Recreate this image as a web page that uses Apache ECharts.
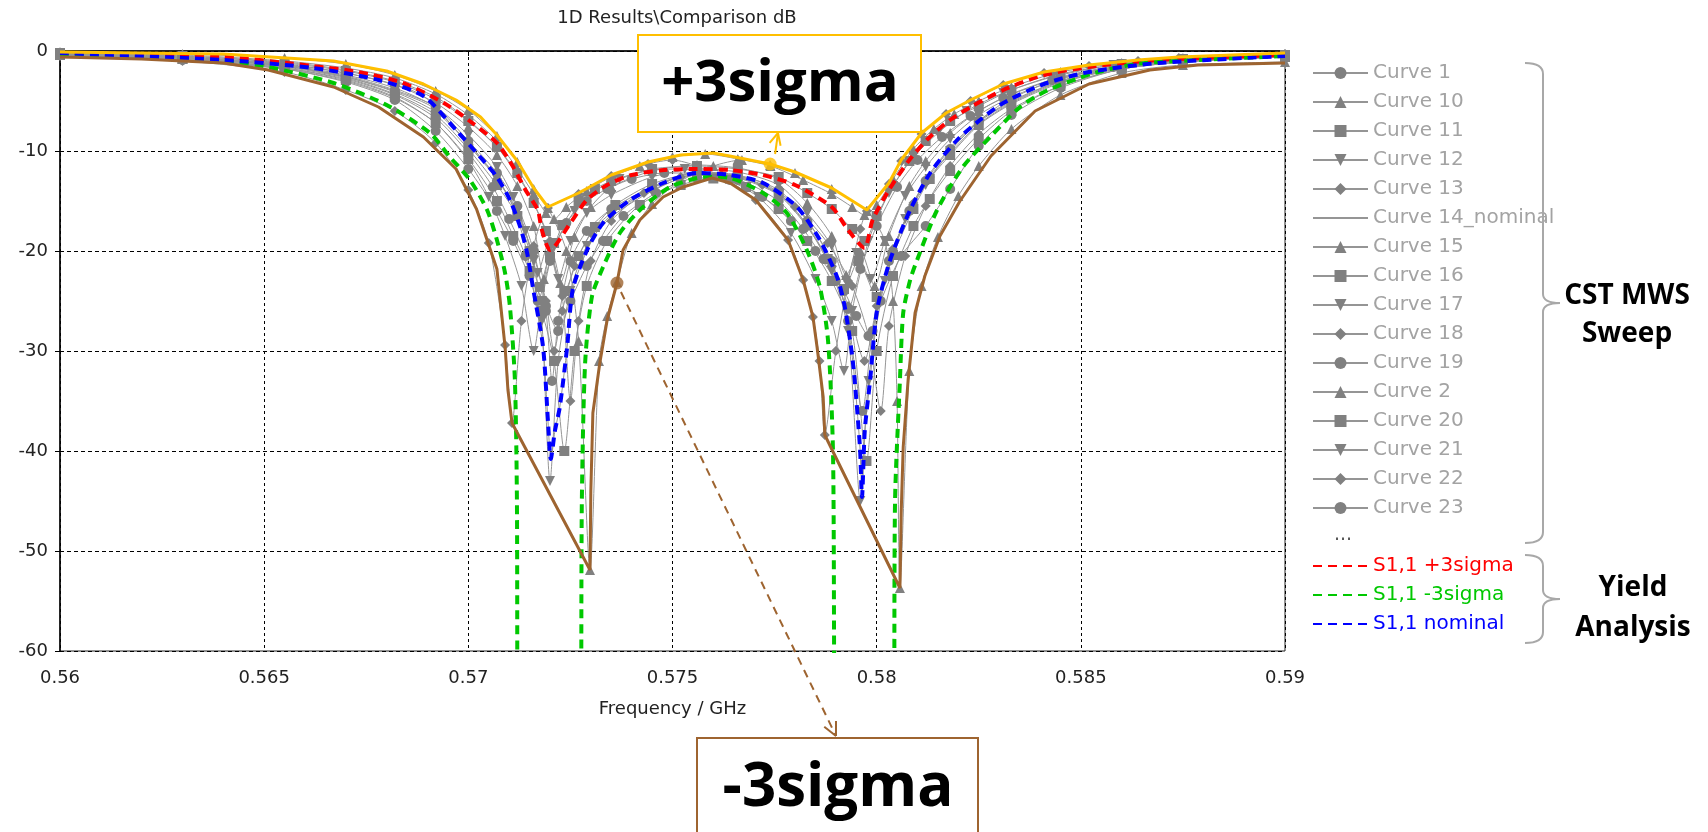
<!DOCTYPE html>
<html>
<head>
<meta charset="utf-8">
<title>1D Results\Comparison dB</title>
<script src="https://cdn.jsdelivr.net/npm/echarts@6.0.0/dist/echarts.min.js"></script>
<style>
html, body { margin: 0; padding: 0; background: #fff; }
#chart { width: 1708px; height: 832px; }
</style>
</head>
<body>
<div id="chart"></div>
<script>
// x = frequency in GHz, y = S1,1 in dB

// yield analysis curves
var s11Plus3 = [[0.5600,-0.2],[0.5640,-0.6],[0.5662,-1.5],[0.5673,-2.1],[0.5684,-3.2],[0.5694,-5.2],[0.5701,-7.2],[0.5707,-9.2],[0.5711,-11.6],[0.5714,-13.9],[0.5717,-15.9],[0.5718,-17.9],[0.5720,-19.9],[0.5725,-17.2],[0.5729,-14.9],[0.5734,-13.4],[0.5740,-12.4],[0.5748,-11.9],[0.5756,-11.8],[0.5764,-11.9],[0.5772,-12.4],[0.5780,-13.4],[0.5789,-15.6],[0.5793,-17.9],[0.5797,-19.7],[0.5799,-16.9],[0.5803,-13.9],[0.5808,-10.9],[0.5813,-8.6],[0.5818,-6.9],[0.5823,-5.6],[0.5831,-3.9],[0.5841,-2.4],[0.5852,-1.6],[0.5869,-0.9],[0.5900,-0.4]];
var s11Minus3 = [[0.5600,-0.4],[0.5640,-1.0],[0.5651,-1.6],[0.5667,-3.2],[0.5680,-5.4],[0.56906,-8.2],[0.56955,-10.6],[0.57004,-12.9],[0.57046,-15.9],[0.57070,-18.9],[0.57090,-22.2],[0.57102,-25.6],[0.57114,-32.9],[0.57119,-45],[0.57122,-75],[0.57273,-75],[0.57278,-45],[0.57286,-31.2],[0.57303,-24.5],[0.57330,-21.6],[0.57371,-18.2],[0.57428,-15.6],[0.57494,-13.6],[0.57560,-12.7],[0.57597,-12.6],[0.57641,-12.7],[0.57722,-14.2],[0.57780,-16.2],[0.57829,-19.9],[0.57861,-23.6],[0.57881,-29.0],[0.57893,-40.0],[0.57903,-75],[0.58040,-75],[0.58045,-45],[0.58057,-32.9],[0.58065,-26.2],[0.58082,-22.9],[0.58099,-20.9],[0.58148,-15.9],[0.58211,-11.6],[0.58278,-8.6],[0.58351,-5.6],[0.58415,-4.0],[0.58525,-2.3],[0.58635,-1.3],[0.58787,-0.9],[0.5900,-0.5]];
var s11Nominal = [[0.5600,-0.2],[0.5640,-0.9],[0.5662,-1.7],[0.5678,-2.9],[0.5689,-4.5],[0.56972,-8.0],[0.57029,-10.6],[0.57070,-12.6],[0.57102,-14.9],[0.57127,-17.6],[0.57144,-20.2],[0.57158,-23.6],[0.57183,-29.6],[0.57195,-37.0],[0.57202,-40.8],[0.57212,-38.0],[0.57224,-35.6],[0.57242,-29.6],[0.57256,-23.8],[0.57291,-19.9],[0.57330,-17.2],[0.57396,-14.9],[0.57477,-13.2],[0.57560,-12.2],[0.57641,-12.4],[0.57722,-13.2],[0.57805,-15.6],[0.57861,-18.9],[0.57903,-22.6],[0.57922,-25.6],[0.57942,-31.2],[0.57959,-39.6],[0.57964,-44.6],[0.57971,-37.9],[0.57984,-32.9],[0.58001,-25.9],[0.58033,-20.9],[0.58082,-15.9],[0.58131,-12.2],[0.58197,-8.9],[0.58253,-6.9],[0.5831,-5.2],[0.5841,-3.3],[0.5852,-2.1],[0.5869,-1.2],[0.5900,-0.5]];

// envelopes (+3sigma / -3sigma)
var envUpper = [[0.5600,-0.1],[0.5640,-0.3],[0.5667,-1.0],[0.5680,-2.0],[0.5689,-3.3],[0.5697,-4.9],[0.5703,-6.6],[0.5707,-8.4],[0.5712,-11.0],[0.5716,-13.7],[0.57195,-15.6],[0.5727,-14.2],[0.5735,-12.4],[0.5744,-11.1],[0.5752,-10.4],[0.5760,-10.2],[0.5764,-10.5],[0.57739,-11.3],[0.5780,-12.1],[0.5789,-13.7],[0.57976,-15.9],[0.5803,-13.2],[0.5806,-10.9],[0.5811,-8.2],[0.5817,-6.2],[0.5823,-4.9],[0.5831,-3.3],[0.5841,-2.1],[0.5852,-1.4],[0.5864,-0.9],[0.5874,-0.6],[0.5900,-0.2]];
var envLower = [[0.5600,-0.6],[0.5620,-0.8],[0.5640,-1.2],[0.5651,-1.9],[0.5667,-3.6],[0.5678,-5.6],[0.5689,-8.6],[0.5697,-11.8],[0.5702,-15.8],[0.5707,-21.8],[0.5709,-29.6],[0.57097,-33.9],[0.57107,-37.2],[0.57298,-51.9],[0.57300,-44.0],[0.57305,-36.2],[0.57322,-31.2],[0.57340,-26.9],[0.57364,-23.2],[0.57379,-19.9],[0.57420,-16.9],[0.57477,-14.6],[0.57526,-13.6],[0.57597,-12.7],[0.57641,-13.2],[0.57704,-14.9],[0.57783,-18.9],[0.57820,-22.9],[0.57844,-26.6],[0.57854,-29.6],[0.57869,-34.6],[0.57873,-38.4],[0.58057,-53.7],[0.58060,-46.2],[0.58065,-39.6],[0.58077,-32.9],[0.58094,-26.2],[0.58118,-22.5],[0.58155,-18.5],[0.58204,-15.0],[0.58280,-10.5],[0.58388,-6.0],[0.58520,-3.3],[0.58669,-1.9],[0.58787,-1.4],[0.5900,-1.2]];
var plusMarker = [0.57739, -11.3];
var minusMarker = [0.57364, -23.2];

// CST MWS parameter sweep
var curve1 = [[0.5600,-0.3],[0.5630,-0.7],[0.5655,-1.5],[0.5670,-2.5],[0.5682,-3.9],[0.5692,-5.6],[0.5700,-9.0],[0.5707,-12.2],[0.5712,-15.5],[0.5716,-20],[0.5719,-26],[0.57205,-33],[0.5722,-27],[0.5725,-21],[0.5729,-18],[0.5735,-15.8],[0.5745,-13.6],[0.5756,-12.1],[0.5766,-12.4],[0.5776,-13.9],[0.5783,-17],[0.5789,-21],[0.5793,-27],[0.57965,-36],[0.5799,-28],[0.5803,-21],[0.5808,-16],[0.5812,-13.0],[0.5818,-9.8],[0.5825,-7.0],[0.5833,-5.0],[0.5845,-3.0],[0.5860,-1.6],[0.5875,-1.0],[0.5900,-0.5]];
var curve10 = [[0.5600,-0.2],[0.5630,-0.6],[0.5655,-1.3],[0.5670,-2.2],[0.5682,-3.4],[0.5692,-5.2],[0.5700,-7.6],[0.5707,-10.4],[0.5712,-13.5],[0.5716,-17.5],[0.57185,-22.8],[0.5720,-19.8],[0.57225,-23.2],[0.5726,-18.6],[0.5730,-15.6],[0.5735,-13.6],[0.5745,-12.0],[0.5756,-11.4],[0.5766,-11.7],[0.5776,-12.8],[0.5783,-15.2],[0.5789,-18.5],[0.57925,-22.4],[0.5796,-20.0],[0.57995,-23.5],[0.5803,-18.5],[0.5808,-13.5],[0.5812,-11.0],[0.5818,-8.2],[0.5825,-6.0],[0.5833,-4.3],[0.5845,-2.6],[0.5860,-1.4],[0.5875,-0.9],[0.5900,-0.4]];
var curve11 = [[0.5600,-0.2],[0.5630,-0.5],[0.5655,-1.2],[0.5670,-2.0],[0.5682,-3.1],[0.5692,-4.8],[0.5700,-7.0],[0.5707,-9.6],[0.5712,-12.2],[0.5716,-15.2],[0.5719,-18.0],[0.5721,-19.2],[0.5723,-17.4],[0.5727,-15.0],[0.5731,-13.8],[0.5735,-13.0],[0.5745,-11.8],[0.5756,-11.5],[0.5766,-11.8],[0.5776,-12.6],[0.5783,-14.2],[0.5789,-15.8],[0.5794,-17.8],[0.5797,-19.0],[0.5800,-16.5],[0.5804,-13.5],[0.5808,-11.0],[0.5812,-9.0],[0.5818,-7.0],[0.5825,-5.5],[0.5833,-3.9],[0.5845,-2.3],[0.5860,-1.3],[0.5875,-0.8],[0.5900,-0.4]];
var curve12 = [[0.5600,-0.3],[0.5630,-0.7],[0.5655,-1.5],[0.5670,-2.6],[0.5682,-4.0],[0.5692,-5.8],[0.5700,-9.4],[0.5707,-12.8],[0.5712,-16.0],[0.5716,-21.0],[0.5718,-27.0],[0.5720,-43.0],[0.5722,-31.0],[0.5725,-24.0],[0.5729,-19.5],[0.5735,-16.6],[0.5745,-14.0],[0.5756,-12.3],[0.5766,-12.6],[0.5776,-14.3],[0.5783,-17.5],[0.5789,-22.0],[0.5793,-28.0],[0.5796,-45.0],[0.5798,-33.0],[0.5802,-23.0],[0.5807,-16.8],[0.5812,-13.4],[0.5818,-10.0],[0.5825,-7.1],[0.5833,-5.1],[0.5845,-3.0],[0.5860,-1.6],[0.5875,-1.0],[0.5900,-0.5]];
var curve13 = [[0.5600,-0.5],[0.5630,-1.0],[0.5655,-2.1],[0.5670,-3.9],[0.5682,-6.0],[0.5692,-9.2],[0.5700,-13.9],[0.5705,-19.2],[0.5709,-29.4],[0.57107,-37.2],[0.5713,-27.0],[0.5716,-19.5],[0.57195,-15.7],[0.5727,-14.3],[0.5735,-12.5],[0.5744,-11.3],[0.5750,-10.9],[0.5756,-11.5],[0.5763,-12.8],[0.57704,-14.9],[0.57783,-18.9],[0.57820,-22.9],[0.57844,-26.6],[0.57860,-31.0],[0.57873,-38.4],[0.5790,-30.0],[0.5793,-23.0],[0.5796,-17.8],[0.57976,-16.0],[0.5803,-13.3],[0.5806,-11.0],[0.5811,-8.3],[0.5817,-6.3],[0.5823,-5.0],[0.5831,-3.4],[0.5841,-2.2],[0.5852,-1.5],[0.5864,-1.0],[0.5874,-0.7],[0.5900,-0.3]];
var curve15 = [[0.5600,-0.1],[0.5630,-0.3],[0.5655,-0.7],[0.5670,-1.3],[0.5682,-2.4],[0.5692,-4.0],[0.5700,-5.9],[0.5707,-8.5],[0.5712,-11.1],[0.5716,-13.8],[0.57195,-15.7],[0.5724,-20.0],[0.5727,-29.0],[0.57298,-51.9],[0.5732,-31.0],[0.5734,-26.5],[0.57364,-23.1],[0.5740,-18.2],[0.5745,-15.3],[0.5752,-13.0],[0.5760,-11.5],[0.5767,-10.9],[0.57739,-11.4],[0.5780,-12.2],[0.5789,-13.8],[0.57976,-16.0],[0.5802,-19.0],[0.5804,-25.0],[0.5805,-35.0],[0.58057,-53.7],[0.5808,-32.0],[0.5811,-23.5],[0.5815,-18.6],[0.5820,-14.5],[0.5825,-11.5],[0.5833,-7.8],[0.5845,-4.4],[0.5860,-2.2],[0.5875,-1.4],[0.5900,-1.1]];
var curve16 = [[0.5600,-0.3],[0.5630,-0.8],[0.5655,-1.6],[0.5670,-2.7],[0.5682,-4.3],[0.5692,-6.4],[0.5700,-9.8],[0.5707,-13.4],[0.5712,-16.5],[0.5715,-20.0],[0.57175,-23.6],[0.5720,-20.6],[0.57235,-24.0],[0.5727,-20.5],[0.5731,-17.6],[0.5736,-15.4],[0.5745,-13.3],[0.5756,-12.2],[0.5766,-12.5],[0.5776,-14.2],[0.5783,-17.4],[0.5788,-20.8],[0.5792,-23.8],[0.57955,-21.0],[0.5800,-24.6],[0.5804,-20.4],[0.5809,-15.8],[0.5813,-12.8],[0.5818,-10.4],[0.5825,-7.4],[0.5833,-5.3],[0.5845,-3.2],[0.5860,-1.7],[0.5875,-1.0],[0.5900,-0.5]];
var curve17 = [[0.5600,-0.4],[0.5630,-0.9],[0.5655,-1.8],[0.5670,-3.0],[0.5682,-4.7],[0.5692,-7.2],[0.5700,-11.0],[0.5705,-14.6],[0.5709,-18.5],[0.5713,-23.5],[0.5716,-30.0],[0.5718,-25.0],[0.5721,-19.6],[0.5726,-16.0],[0.5731,-14.0],[0.5737,-12.8],[0.5745,-11.9],[0.5753,-11.8],[0.5762,-12.6],[0.5771,-14.6],[0.5779,-18.2],[0.5785,-22.8],[0.5789,-27.0],[0.5792,-32.0],[0.5794,-26.0],[0.5798,-19.0],[0.5803,-14.2],[0.5809,-10.6],[0.5815,-8.2],[0.5822,-6.0],[0.5831,-4.2],[0.5843,-2.6],[0.5858,-1.4],[0.5875,-0.8],[0.5900,-0.4]];
var curve18 = [[0.5600,-0.2],[0.5630,-0.5],[0.5655,-1.1],[0.5670,-1.9],[0.5682,-3.0],[0.5692,-4.6],[0.5700,-6.9],[0.5707,-9.6],[0.5712,-12.4],[0.5716,-15.2],[0.5720,-19.0],[0.5723,-24.5],[0.5725,-35.0],[0.5727,-27.0],[0.5730,-21.0],[0.5735,-17.0],[0.5743,-14.2],[0.5752,-12.6],[0.5762,-12.4],[0.5772,-13.4],[0.5780,-15.6],[0.5788,-19.2],[0.5794,-23.5],[0.5798,-28.5],[0.5801,-36.0],[0.5803,-27.5],[0.5807,-20.5],[0.5812,-15.5],[0.5818,-11.5],[0.5825,-8.3],[0.5833,-5.8],[0.5845,-3.5],[0.5860,-1.8],[0.5875,-1.1],[0.5900,-0.6]];
var curve19 = [[0.5600,-0.4],[0.5630,-0.9],[0.5655,-1.8],[0.5670,-3.1],[0.5682,-4.9],[0.5692,-8.0],[0.5700,-11.8],[0.5707,-16.0],[0.5711,-19.0],[0.5715,-22.5],[0.5719,-25.5],[0.5722,-28.0],[0.5725,-25.0],[0.5729,-21.5],[0.5733,-19.0],[0.5738,-16.5],[0.5746,-14.2],[0.5756,-12.7],[0.5766,-12.9],[0.5776,-15.0],[0.5782,-17.8],[0.5787,-20.8],[0.5792,-24.0],[0.5795,-26.5],[0.5798,-28.5],[0.5801,-25.0],[0.5806,-20.5],[0.5812,-17.5],[0.5818,-13.8],[0.5825,-9.5],[0.5833,-6.4],[0.5845,-3.7],[0.5860,-1.8],[0.5875,-1.1],[0.5900,-0.5]];
var curve2 = [[0.5600,-0.2],[0.5630,-0.4],[0.5655,-1.0],[0.5670,-1.7],[0.5682,-2.7],[0.5692,-4.3],[0.5700,-6.4],[0.5707,-9.0],[0.5712,-11.8],[0.5716,-14.3],[0.5719,-16.2],[0.5721,-16.8],[0.5724,-15.6],[0.5729,-14.0],[0.5735,-12.6],[0.5742,-11.5],[0.5750,-10.6],[0.5758,-10.3],[0.5766,-10.8],[0.5774,-11.5],[0.5782,-12.9],[0.5789,-14.3],[0.5794,-15.6],[0.5797,-16.4],[0.5800,-15.4],[0.5804,-12.8],[0.5809,-9.8],[0.5814,-7.8],[0.5819,-6.3],[0.5825,-5.0],[0.5833,-3.6],[0.5845,-2.1],[0.5860,-1.2],[0.5875,-0.7],[0.5900,-0.3]];
var curve20 = [[0.5600,-0.4],[0.5630,-0.8],[0.5655,-1.7],[0.5670,-2.9],[0.5682,-4.6],[0.5692,-7.2],[0.5700,-10.8],[0.5707,-15.0],[0.5711,-18.5],[0.5715,-22.0],[0.5718,-26.0],[0.5721,-31.0],[0.57235,-40.0],[0.5726,-30.0],[0.5729,-23.5],[0.5734,-19.0],[0.5742,-15.4],[0.5752,-13.4],[0.5760,-12.75],[0.5768,-13.6],[0.5776,-15.8],[0.5783,-19.0],[0.5789,-23.0],[0.5794,-28.0],[0.57975,-41.0],[0.5800,-30.0],[0.5804,-22.5],[0.5809,-17.5],[0.5813,-14.8],[0.5818,-12.0],[0.5825,-8.8],[0.5833,-6.0],[0.5845,-3.5],[0.5860,-1.8],[0.5875,-1.1],[0.5900,-0.6]];
var curve21 = [[0.5600,-0.3],[0.5630,-0.6],[0.5655,-1.4],[0.5670,-2.4],[0.5682,-3.7],[0.5692,-5.6],[0.5700,-8.4],[0.5707,-11.6],[0.5711,-14.6],[0.5714,-18.0],[0.5717,-22.2],[0.57195,-19.4],[0.5722,-22.8],[0.5725,-19.0],[0.5729,-16.2],[0.5735,-14.4],[0.5745,-12.6],[0.5756,-11.8],[0.5766,-12.1],[0.5776,-13.4],[0.5783,-16.2],[0.5789,-19.5],[0.57925,-23.0],[0.5795,-20.2],[0.57985,-22.8],[0.5802,-19.0],[0.5807,-14.5],[0.5812,-11.6],[0.5818,-8.8],[0.5825,-6.4],[0.5833,-4.6],[0.5845,-2.8],[0.5860,-1.5],[0.5875,-0.9],[0.5900,-0.4]];
var curve22 = [[0.5600,-0.3],[0.5630,-0.7],[0.5655,-1.5],[0.5670,-2.6],[0.5682,-4.1],[0.5692,-6.1],[0.5700,-9.2],[0.5707,-12.8],[0.5712,-16.2],[0.5716,-20.5],[0.5719,-25.0],[0.5721,-30.0],[0.5723,-26.0],[0.5726,-21.5],[0.5730,-18.2],[0.5735,-16.2],[0.5745,-13.9],[0.5756,-12.4],[0.5766,-12.7],[0.5776,-14.4],[0.5783,-17.6],[0.5789,-21.5],[0.5793,-25.5],[0.5797,-31.0],[0.5800,-25.5],[0.5804,-19.8],[0.5809,-15.2],[0.5813,-12.6],[0.5818,-10.2],[0.5825,-7.3],[0.5833,-5.2],[0.5845,-3.1],[0.5860,-1.7],[0.5875,-1.0],[0.5900,-0.5]];
var curve23 = [[0.5600,-0.4],[0.5630,-0.8],[0.5655,-1.7],[0.5670,-2.8],[0.5682,-4.4],[0.5692,-6.7],[0.5700,-10.2],[0.5706,-13.6],[0.5710,-16.8],[0.5714,-20.5],[0.5717,-25.0],[0.5720,-21.0],[0.5724,-17.2],[0.5729,-15.0],[0.5734,-13.8],[0.5740,-12.8],[0.5748,-12.2],[0.5756,-12.2],[0.5764,-12.9],[0.5772,-14.6],[0.5779,-17.0],[0.5785,-20.0],[0.5790,-23.0],[0.5793,-25.8],[0.5796,-21.8],[0.5800,-17.5],[0.5805,-13.6],[0.5810,-10.9],[0.5816,-8.6],[0.5823,-6.5],[0.5831,-4.7],[0.5843,-2.9],[0.5858,-1.6],[0.5875,-0.9],[0.5900,-0.5]];

var sweepNames = ['Curve 1','Curve 10','Curve 11','Curve 12','Curve 13','Curve 14_nominal','Curve 15','Curve 16','Curve 17','Curve 18','Curve 19','Curve 2','Curve 20','Curve 21','Curve 22','Curve 23'];
var sweepData = [curve1, curve10, curve11, curve12, curve13, s11Nominal, curve15, curve16, curve17, curve18, curve19, curve2, curve20, curve21, curve22, curve23];
var sweepSymbols = ['circle','triangle','rect','triangle','diamond','none','triangle','rect','triangle','diamond','circle','triangle','rect','triangle','diamond','circle'];
var sweepRotate = [0,0,0,180,0,0,0,0,180,0,0,0,0,180,0,0];

var yieldNames = ['S1,1 +3sigma','S1,1 -3sigma','S1,1 nominal'];
var yieldData = [s11Plus3, s11Minus3, s11Nominal];
var yieldColors = ['#ff0000','#00c800','#0000ff'];

var xTicks = { min: 0.56, max: 0.59, step: 0.005 };
var yTicks = { min: -60, max: 0, step: 10 };

var FONT = 'DejaVu Sans';
var BOLD = 'Open Sans';
var ORANGE = '#ffbf00';
var BROWN = '#9e6430';
var BRACKET = '#a8a8a8';

var chart = echarts.init(document.getElementById('chart'));

var series = [];
sweepNames.forEach(function (name, i) {
    series.push({
        name: name,
        type: 'line',
        data: sweepData[i],
        symbol: sweepSymbols[i],
        symbolRotate: sweepRotate[i],
        symbolSize: 10,
        showSymbol: sweepSymbols[i] !== 'none',
        smooth: 0.25,
        lineStyle: { color: '#959595', width: 1 },
        itemStyle: { color: '#808080' },
        z: 2
    });
});
yieldNames.forEach(function (name, i) {
    series.push({
        name: name,
        type: 'line',
        data: yieldData[i],
        symbol: 'none',
        smooth: 0.25,
        lineStyle: { color: yieldColors[i], width: 4, type: [9, 6] },
        itemStyle: { color: yieldColors[i] },
        z: 3
    });
});
series.push({
    name: 'upper',
    type: 'line',
    data: envUpper,
    symbol: 'none',
    lineStyle: { color: ORANGE, width: 3 },
    z: 4
});
series.push({
    name: 'lower',
    type: 'line',
    data: envLower,
    symbol: 'none',
    lineStyle: { color: BROWN, width: 3 },
    z: 4
});
series.push({
    name: 'plusDot', type: 'scatter', data: [plusMarker],
    symbolSize: 13, itemStyle: { color: ORANGE }, z: 5
});
series.push({
    name: 'minusDot', type: 'scatter', data: [minusMarker],
    symbolSize: 13, itemStyle: { color: BROWN }, z: 5
});

var legendText = { fontFamily: FONT, fontSize: 20, lineHeight: 20, color: '#a3a3a3' };
var noMarker = { opacity: 0 };

chart.setOption({
    animation: false,
    title: {
        text: '1D Results\\Comparison dB',
        left: 672, top: 4, textAlign: 'center',
        textStyle: { fontFamily: FONT, fontSize: 18, fontWeight: 'normal', color: '#222' }
    },
    grid: {
        left: 60, right: 423, top: 51, bottom: 181,
        show: true, borderColor: '#222', borderWidth: 1
    },
    legend: [{
        data: sweepNames.map(function (n, i) {
            return sweepSymbols[i] === 'none' ? { name: n, itemStyle: noMarker } : { name: n };
        }),
        orient: 'vertical',
        left: 1307, top: 58,
        itemWidth: 55, itemHeight: 15, itemGap: 9,
        selectedMode: false,
        lineStyle: { width: 2 },
        textStyle: legendText
    }, {
        data: yieldNames.map(function (n, i) {
            return { name: n, itemStyle: noMarker, textStyle: { color: yieldColors[i] } };
        }),
        orient: 'vertical',
        left: 1307, top: 551,
        itemWidth: 55, itemHeight: 15, itemGap: 9,
        selectedMode: false,
        lineStyle: { width: 2 },
        textStyle: legendText
    }],
    xAxis: {
        type: 'value',
        min: xTicks.min, max: xTicks.max, interval: xTicks.step,
        name: 'Frequency / GHz',
        nameLocation: 'middle', nameGap: 49,
        nameTextStyle: { fontFamily: FONT, fontSize: 18, color: '#222' },
        axisLine: { lineStyle: { color: '#000', width: 1.5 } },
        axisTick: { show: true, length: 5, lineStyle: { color: '#000' } },
        axisLabel: {
            margin: 18, fontFamily: FONT, fontSize: 18, color: '#222',
            formatter: function (v) { return String(parseFloat(v.toFixed(4))); }
        },
        splitLine: { show: true, lineStyle: { color: '#000', type: [3, 3], width: 1 } }
    },
    yAxis: {
        type: 'value',
        min: yTicks.min, max: yTicks.max, interval: yTicks.step,
        axisLine: { show: true, lineStyle: { color: '#000', width: 1.5 } },
        axisTick: { show: true, length: 5, lineStyle: { color: '#000' } },
        axisLabel: { margin: 12, fontFamily: FONT, fontSize: 18, color: '#222' },
        splitLine: { show: true, lineStyle: { color: '#000', type: [4, 3], width: 1 } }
    },
    series: series
});

// annotations: boxes, arrows, brackets
function arrowHead(tx, ty, fx, fy, len, color) {
    var a = Math.atan2(ty - fy, tx - fx);
    var out = [];
    [-0.45, 0.45].forEach(function (d) {
        out.push({
            type: 'line', z: 100,
            shape: { x1: tx, y1: ty, x2: tx - len * Math.cos(a + d), y2: ty - len * Math.sin(a + d) },
            style: { stroke: color, lineWidth: 2 }
        });
    });
    return out;
}

function seg(x1, y1, x2, y2) {
    return { type: 'line', z: 100, shape: { x1: x1, y1: y1, x2: x2, y2: y2 },
             style: { stroke: BRACKET, lineWidth: 2 } };
}
function curl(x1, y1, cx, cy, x2, y2) {
    return { type: 'bezierCurve', z: 100,
             shape: { x1: x1, y1: y1, cpx1: cx, cpy1: cy, x2: x2, y2: y2 },
             style: { stroke: BRACKET, lineWidth: 2, fill: null } };
}
// curly bracket "}" between top and bottom, tip at mid
function bracket(top, mid, bottom) {
    var x0 = 1525, xv = 1543, xt = 1560;
    return [
        curl(x0, top, xv, top, xv, top + 11),
        seg(xv, top + 11, xv, mid - 9),
        curl(xv, mid - 9, xv, mid, xt, mid),
        curl(xt, mid, xv, mid, xv, mid + 9),
        seg(xv, mid + 9, xv, bottom - 11),
        curl(xv, bottom - 11, xv, bottom, x0, bottom)
    ];
}

var pPlus = chart.convertToPixel({ gridIndex: 0 }, plusMarker);
var pMinus = chart.convertToPixel({ gridIndex: 0 }, minusMarker);
var plusTip = [778, 133];
var minusTip = [836, 736];

var graphics = [
    { type: 'rect', z: 100, shape: { x: 638, y: 35, width: 283, height: 97 },
      style: { fill: '#fff', stroke: ORANGE, lineWidth: 2 } },
    { type: 'text', z: 101, x: 780, y: 84,
      style: { text: '+3sigma', font: 'bold 58px "' + BOLD + '"', fill: '#000', align: 'center', verticalAlign: 'middle' } },
    { type: 'rect', z: 100, shape: { x: 697, y: 738, width: 281, height: 120 },
      style: { fill: '#fff', stroke: BROWN, lineWidth: 2 } },
    { type: 'text', z: 101, x: 838, y: 789,
      style: { text: '-3sigma', font: 'bold 60px "' + BOLD + '"', fill: '#000', align: 'center', verticalAlign: 'middle' } },
    { type: 'line', z: 100,
      shape: { x1: pPlus[0] + 5, y1: pPlus[1] - 10, x2: plusTip[0], y2: plusTip[1] },
      style: { stroke: ORANGE, lineWidth: 2 } },
    { type: 'line', z: 100,
      shape: { x1: pMinus[0] + 4, y1: pMinus[1] + 9, x2: minusTip[0], y2: minusTip[1] },
      style: { stroke: BROWN, lineWidth: 2, lineDash: [8, 6] } },
    { type: 'text', z: 100, x: 1343, y: 535,
      style: { text: '...', font: '19px "' + FONT + '"', fill: '#555', align: 'center', verticalAlign: 'middle' } },
    { type: 'text', z: 100, x: 1627, y: 296,
      style: { text: 'CST MWS', font: 'bold 28px "' + BOLD + '"', fill: '#000', align: 'center', verticalAlign: 'middle' } },
    { type: 'text', z: 100, x: 1627, y: 334,
      style: { text: 'Sweep', font: 'bold 28px "' + BOLD + '"', fill: '#000', align: 'center', verticalAlign: 'middle' } },
    { type: 'text', z: 100, x: 1633, y: 588,
      style: { text: 'Yield', font: 'bold 28px "' + BOLD + '"', fill: '#000', align: 'center', verticalAlign: 'middle' } },
    { type: 'text', z: 100, x: 1633, y: 628,
      style: { text: 'Analysis', font: 'bold 28px "' + BOLD + '"', fill: '#000', align: 'center', verticalAlign: 'middle' } }
];
graphics = graphics.concat(bracket(63, 303, 543));
graphics = graphics.concat(bracket(555, 599, 643));
graphics = graphics.concat(arrowHead(plusTip[0], plusTip[1], pPlus[0], pPlus[1], 13, ORANGE));
graphics = graphics.concat(arrowHead(minusTip[0], minusTip[1], pMinus[0], pMinus[1], 15, BROWN));

chart.setOption({ graphic: graphics });
</script>
</body>
</html>
